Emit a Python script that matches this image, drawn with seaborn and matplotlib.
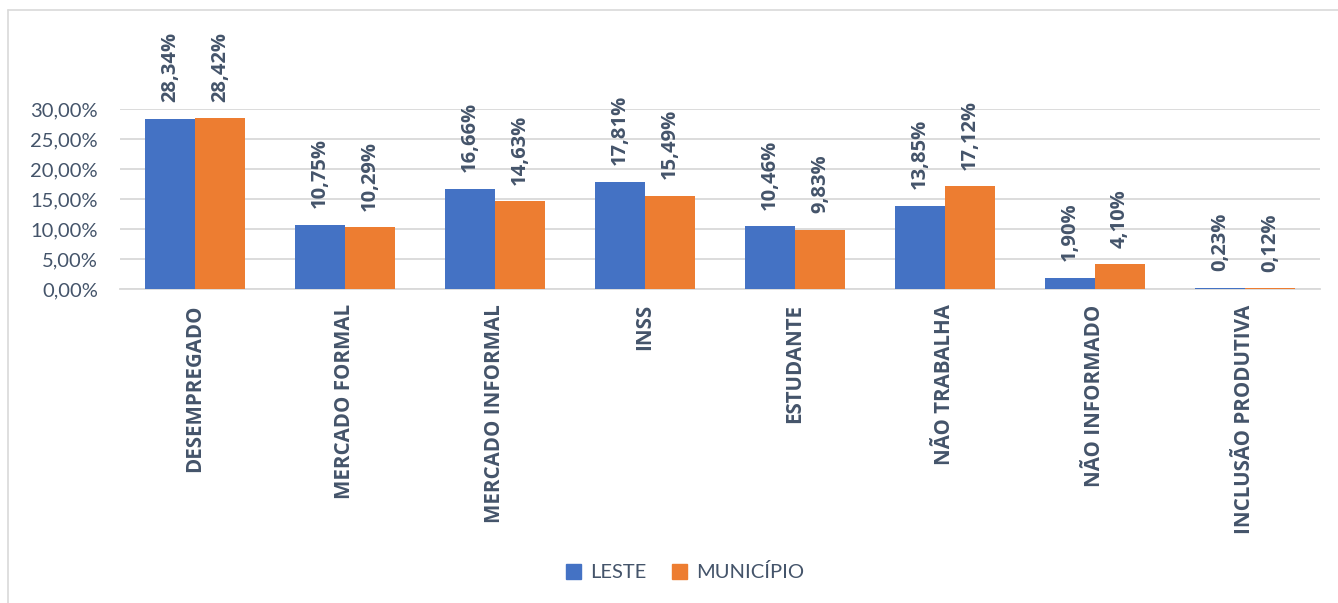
import matplotlib
matplotlib.use("Agg")
import matplotlib.pyplot as plt
from matplotlib.lines import Line2D
import seaborn as sns
import pandas as pd

categories = ["DESEMPREGADO", "MERCADO FORMAL", "MERCADO INFORMAL", "INSS",
              "ESTUDANTE", "NÃO TRABALHA", "NÃO INFORMADO", "INCLUSÃO PRODUTIVA"]
leste = [28.34, 10.75, 16.66, 17.81, 10.46, 13.85, 1.90, 0.23]
municipio = [28.42, 10.29, 14.63, 15.49, 9.83, 17.12, 4.10, 0.12]
series_names = ["LESTE", "MUNICÍPIO"]
yticks = [0, 5, 10, 15, 20, 25, 30]

df = pd.DataFrame({
    "cat": categories * 2,
    "serie": [series_names[0]] * len(categories) + [series_names[1]] * len(categories),
    "val": leste + municipio,
})

sns.set_theme(style="white")
FONT = ["Lato", "DejaVu Sans"]
BOLD = ["Open Sans", "DejaVu Sans"]
plt.rcParams["font.family"] = FONT
TXT = "#44546A"
GRID = "#D9D9D9"

W, H = 1338, 603
fig = plt.figure(figsize=(W / 100, H / 100), dpi=100)
ax = fig.add_axes([120 / W, (H - 289) / H, 1200 / W, 180 / H])

sns.barplot(data=df, x="cat", y="val", hue="serie", order=categories,
            hue_order=series_names, palette=["#4472C4", "#ED7D31"],
            width=2 / 3, gap=0, saturation=1, ax=ax, legend=False,
            linewidth=0, zorder=3)

ax.set_ylim(0, 30)
ax.set_xlim(-0.5, len(categories) - 0.5)
ax.set_yticks(yticks)
ax.set_yticklabels([f"{t:.2f}%".replace(".", ",") for t in yticks],
                   fontsize=14.5, color=TXT)
ax.tick_params(axis="y", length=0, pad=16)
ax.tick_params(axis="x", length=0, pad=11)
ax.set_xticks(range(len(categories)))
ax.set_xticklabels(categories, rotation=90, fontsize=14.8, fontweight="bold",
                   color=TXT, va="top", ha="center", family=BOLD)
ax.grid(axis="y", color=GRID, linewidth=1.3, zorder=0)
ax.grid(axis="x", visible=False)
for s in ["top", "right", "left"]:
    ax.spines[s].set_visible(False)
ax.spines["bottom"].set_color(GRID)
ax.spines["bottom"].set_linewidth(1.3)
ax.set_xlabel("")
ax.set_ylabel("")

for cont in ax.containers:
    labels = [f"{b.get_height():.2f}%".replace(".", ",") for b in cont]
    ax.bar_label(cont, labels=labels, rotation=90, padding=12, fontsize=14.5,
                 fontweight="bold", color=TXT, clip_on=False, family=BOLD)

handles = [plt.Rectangle((0, 0), 1, 1, color=c) for c in ["#4472C4", "#ED7D31"]]
fig.legend(handles, series_names, loc="center", bbox_to_anchor=(0.512, 0.051),
           ncol=2, frameon=False, fontsize=14.5, handlelength=0.75,
           handleheight=0.75, handletextpad=0.45, columnspacing=1.3,
           labelcolor=TXT)

# chart frame (left and top edges)
fig.add_artist(Line2D([8 / W, 8 / W], [0, (H - 10) / H], color=GRID, lw=1.2,
                      transform=fig.transFigure))
fig.add_artist(Line2D([8 / W, 1], [(H - 10) / H, (H - 10) / H], color=GRID, lw=1.2,
                      transform=fig.transFigure))

fig.savefig("out.png", dpi=100, facecolor="white")
